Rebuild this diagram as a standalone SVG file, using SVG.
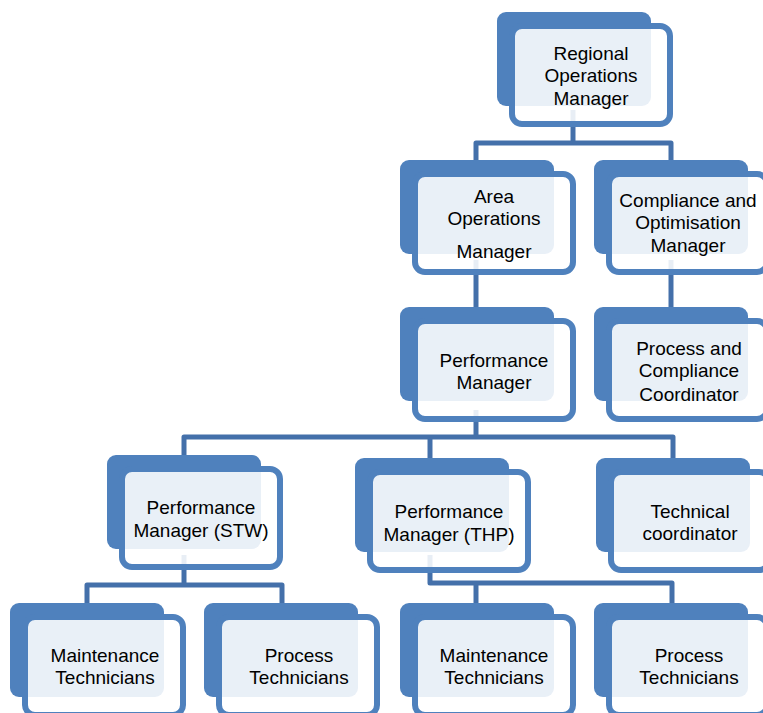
<svg xmlns="http://www.w3.org/2000/svg" width="763" height="713" viewBox="0 0 763 713">
<style>
.bk{fill:#4F81BD}
.fr{fill:#FFFFFF;fill-opacity:0.88;stroke:#4F81BD;stroke-width:6}
.cn{fill:none;stroke:#4470AA;stroke-width:5;stroke-linejoin:round}
text{font-family:"Liberation Sans",Arial,sans-serif;font-size:19px;fill:#000;text-anchor:middle}
</style>
<rect width="763" height="713" fill="#FFFFFF"/>
<g id="connectors">
<path class="cn" d="M573,110 V143"/>
<path class="cn" d="M476,175 V143 H671 V175"/>
<path class="cn" d="M476,260 V312"/>
<path class="cn" d="M671,260 V312"/>
<path class="cn" d="M476,410 V437"/>
<path class="cn" d="M184,465 V437 H673 V465"/>
<path class="cn" d="M430,465 V437"/>
<path class="cn" d="M184,555 V585"/>
<path class="cn" d="M87,612 V585 H282 V612"/>
<path class="cn" d="M430,555 V583 H672 V612"/>
<path class="cn" d="M476,583 V612"/>
</g>
<g id="n-regional">
<rect class="bk" x="497" y="12" width="154" height="94" rx="9"/>
<rect class="fr" x="512" y="26" width="158" height="98" rx="10"/>
<text x="591" y="60">Regional</text>
<text x="591" y="82">Operations</text>
<text x="591" y="105">Manager</text>
</g>
<g id="n-area">
<rect class="bk" x="400" y="160" width="154" height="94" rx="9"/>
<rect class="fr" x="415" y="174" width="158" height="98" rx="10"/>
<text x="494" y="203">Area</text>
<text x="494" y="225">Operations</text>
<text x="494" y="258">Manager</text>
</g>
<g id="n-compliance">
<rect class="bk" x="594" y="160" width="154" height="94" rx="9"/>
<rect class="fr" x="609" y="174" width="158" height="98" rx="10"/>
<text x="688" y="207">Compliance and</text>
<text x="688" y="229">Optimisation</text>
<text x="688" y="252">Manager</text>
</g>
<g id="n-performance">
<rect class="bk" x="400" y="307" width="154" height="94" rx="9"/>
<rect class="fr" x="415" y="321" width="158" height="98" rx="10"/>
<text x="494" y="367">Performance</text>
<text x="494" y="389">Manager</text>
</g>
<g id="n-pcc">
<rect class="bk" x="594" y="307" width="154" height="94" rx="9"/>
<rect class="fr" x="609" y="321" width="158" height="98" rx="10"/>
<text x="689" y="355">Process and</text>
<text x="689" y="377">Compliance</text>
<text x="689" y="401">Coordinator</text>
</g>
<g id="n-stw">
<rect class="bk" x="107" y="455" width="154" height="94" rx="9"/>
<rect class="fr" x="122" y="469" width="158" height="98" rx="10"/>
<text x="201" y="514">Performance</text>
<text x="201" y="537">Manager (STW)</text>
</g>
<g id="n-thp">
<rect class="bk" x="355" y="458" width="154" height="94" rx="9"/>
<rect class="fr" x="370" y="472" width="158" height="98" rx="10"/>
<text x="449" y="518">Performance</text>
<text x="449" y="541">Manager (THP)</text>
</g>
<g id="n-tech">
<rect class="bk" x="596" y="458" width="154" height="94" rx="9"/>
<rect class="fr" x="611" y="472" width="158" height="98" rx="10"/>
<text x="690" y="518">Technical</text>
<text x="690" y="540">coordinator</text>
</g>
<g id="n-maint-l">
<rect class="bk" x="10" y="603" width="154" height="94" rx="9"/>
<rect class="fr" x="25" y="617" width="158" height="98" rx="10"/>
<text x="105" y="662">Maintenance</text>
<text x="105" y="684">Technicians</text>
</g>
<g id="n-proc-l">
<rect class="bk" x="204" y="603" width="154" height="94" rx="9"/>
<rect class="fr" x="219" y="617" width="158" height="98" rx="10"/>
<text x="299" y="662">Process</text>
<text x="299" y="684">Technicians</text>
</g>
<g id="n-maint-r">
<rect class="bk" x="400" y="603" width="154" height="94" rx="9"/>
<rect class="fr" x="415" y="617" width="158" height="98" rx="10"/>
<text x="494" y="662">Maintenance</text>
<text x="494" y="684">Technicians</text>
</g>
<g id="n-proc-r">
<rect class="bk" x="594" y="603" width="154" height="94" rx="9"/>
<rect class="fr" x="609" y="617" width="158" height="98" rx="10"/>
<text x="689" y="662">Process</text>
<text x="689" y="684">Technicians</text>
</g>
</svg>
